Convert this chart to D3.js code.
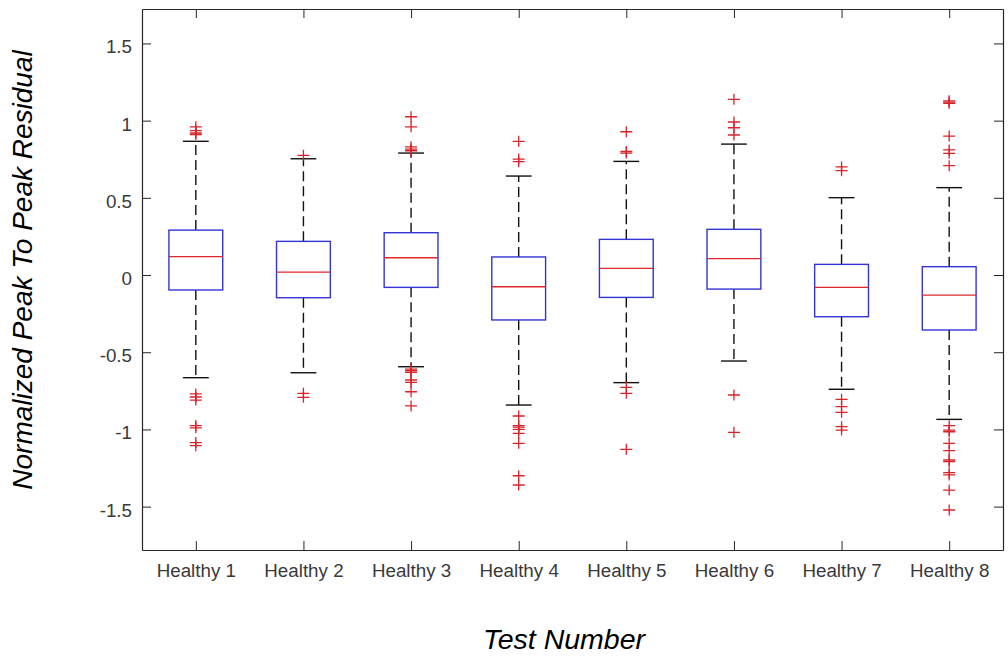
<!DOCTYPE html>
<html>
<head>
<meta charset="utf-8">
<script src="https://cdn.jsdelivr.net/npm/d3@7"></script>
<style>
  body { margin: 0; background: #fff; }
  svg { display: block; font-family: "Liberation Sans", Arial, sans-serif; }
</style>
</head>
<body>
<svg id="chart"></svg>
<script>
// boxplot of residuals, one box per test

const categories = ["Healthy 1", "Healthy 2", "Healthy 3", "Healthy 4", "Healthy 5", "Healthy 6", "Healthy 7", "Healthy 8"];
const q1 = [-0.097, -0.147, -0.080, -0.291, -0.145, -0.091, -0.270, -0.356];
const median = [0.119, 0.019, 0.112, -0.076, 0.043, 0.106, -0.080, -0.130];
const q3 = [0.291, 0.218, 0.274, 0.117, 0.231, 0.296, 0.069, 0.054];
const whiskerLow = [-0.665, -0.633, -0.594, -0.842, -0.697, -0.557, -0.740, -0.935];
const whiskerHigh = [0.866, 0.753, 0.790, 0.641, 0.736, 0.848, 0.501, 0.566];
const outliers = [
  [0.96, 0.935, 0.92, 0.91, -0.77, -0.79, -0.81, -0.975, -0.99, -1.085, -1.105],
  [0.775, -0.766, -0.792],
  [1.025, 0.96, 0.83, 0.815, 0.805, -0.61, -0.62, -0.63, -0.68, -0.695, -0.756, -0.848],
  [0.866, 0.751, 0.734, -0.913, -0.975, -0.985, -1.0, -1.025, -1.09, -1.30, -1.36],
  [0.928, 0.80, 0.79, -0.728, -0.766, -1.129],
  [1.138, 0.991, 0.954, 0.907, -0.777, -1.019],
  [0.70, 0.676, -0.805, -0.853, -0.889, -0.982, -1.004],
  [1.112, 1.12, 1.128, 0.90, 0.81, 0.788, 0.708, -0.976, -1.005, -1.015, -1.09, -1.138, -1.198, -1.208, -1.28, -1.295, -1.393, -1.522]
];
const yTicks = [-1.5, -1, -0.5, 0, 0.5, 1, 1.5];

let width = 1008, height = 666;
let plotLeft = 142, plotRight = 1003, plotTop = 9, plotBottom = 550;

let svg = d3.select("#chart").attr("width", width).attr("height", height);

let x = d3.scaleLinear().domain([0.5, 8.5]).range([plotLeft, plotRight]);
let y = d3.scaleLinear().domain([-1.781, 1.723]).range([plotBottom, plotTop]);

const frameColor = "#262626";
const boxW = 0.5, capW = 0.24;

let rows = categories.map((c, i) => ({
  name: c, pos: i + 1,
  q1: q1[i], med: median[i], q3: q3[i],
  lo: whiskerLow[i], hi: whiskerHigh[i], out: outliers[i]
}));

// axes, ticks pointing inward
let styleAxis = g => {
  g.selectAll("path.domain").attr("stroke", frameColor).attr("stroke-width", 1.2);
  g.selectAll(".tick line").attr("stroke", frameColor).attr("stroke-width", 1);
  g.selectAll(".tick text").attr("fill", "#3a3a3a").style("font-size", "18.8px");
};

svg.append("g")
  .attr("transform", `translate(0,${plotBottom})`)
  .call(d3.axisBottom(x).tickValues(d3.range(1, 9)).tickFormat(d => categories[d - 1])
    .tickSizeInner(-9).tickSizeOuter(0).tickPadding(14))
  .call(styleAxis);

svg.append("g")
  .attr("transform", `translate(0,${plotTop})`)
  .call(d3.axisTop(x).tickValues(d3.range(1, 9)).tickFormat("")
    .tickSizeInner(-9).tickSizeOuter(0))
  .call(styleAxis);

svg.append("g")
  .attr("transform", `translate(${plotLeft},0)`)
  .call(d3.axisLeft(y).tickValues(yTicks).tickFormat(d => String(d))
    .tickSizeInner(-9).tickSizeOuter(0).tickPadding(10))
  .call(styleAxis)
  .call(g => g.selectAll(".tick text").attr("dy", "0.5em"));

svg.append("g")
  .attr("transform", `translate(${plotRight},0)`)
  .call(d3.axisRight(y).tickValues(yTicks).tickFormat("")
    .tickSizeInner(-9).tickSizeOuter(0))
  .call(styleAxis);

let boxes = svg.selectAll(".box")
  .data(rows)
  .enter()
  .append("g")
  .attr("class", "box");

// whiskers
boxes.append("line")
  .attr("x1", d => x(d.pos)).attr("x2", d => x(d.pos))
  .attr("y1", d => y(d.q3)).attr("y2", d => y(d.hi))
  .attr("stroke", "#111").attr("stroke-width", 1.4).attr("stroke-dasharray", "10,5");
boxes.append("line")
  .attr("x1", d => x(d.pos)).attr("x2", d => x(d.pos))
  .attr("y1", d => y(d.q1)).attr("y2", d => y(d.lo))
  .attr("stroke", "#111").attr("stroke-width", 1.4).attr("stroke-dasharray", "10,5");

// caps
boxes.append("line")
  .attr("x1", d => x(d.pos - capW / 2)).attr("x2", d => x(d.pos + capW / 2))
  .attr("y1", d => y(d.hi)).attr("y2", d => y(d.hi))
  .attr("stroke", "#111").attr("stroke-width", 1.4);
boxes.append("line")
  .attr("x1", d => x(d.pos - capW / 2)).attr("x2", d => x(d.pos + capW / 2))
  .attr("y1", d => y(d.lo)).attr("y2", d => y(d.lo))
  .attr("stroke", "#111").attr("stroke-width", 1.4);

// box
boxes.append("rect")
  .attr("x", d => x(d.pos - boxW / 2))
  .attr("y", d => y(d.q3))
  .attr("width", d => x(d.pos + boxW / 2) - x(d.pos - boxW / 2))
  .attr("height", d => y(d.q1) - y(d.q3))
  .attr("fill", "none").attr("stroke", "#3434d4").attr("stroke-width", 1.4);

// median
boxes.append("line")
  .attr("x1", d => x(d.pos - boxW / 2)).attr("x2", d => x(d.pos + boxW / 2))
  .attr("y1", d => y(d.med)).attr("y2", d => y(d.med))
  .attr("stroke", "#e0282a").attr("stroke-width", 1.3);

// outliers as red plus signs
boxes.selectAll(".out")
  .data(d => d.out.map(v => ({ pos: d.pos, v: v })))
  .enter()
  .append("path")
  .attr("d", d => {
    let cx = x(d.pos), cy = y(d.v);
    return `M${cx - 6},${cy}H${cx + 6}M${cx},${cy - 5.5}V${cy + 5.5}`;
  })
  .attr("stroke", "#d9232b").attr("stroke-width", 1.3).attr("fill", "none");

// axis titles
svg.append("text")
  .attr("x", 564).attr("y", 649)
  .attr("text-anchor", "middle")
  .style("font-size", "28.5px").style("font-style", "italic")
  .attr("fill", "#000")
  .text("Test Number");

svg.append("text")
  .attr("transform", "translate(32,270) rotate(-90)")
  .attr("text-anchor", "middle")
  .style("font-size", "28px").style("font-style", "italic")
  .attr("fill", "#000")
  .text("Normalized Peak To Peak Residual");
</script>
</body>
</html>
